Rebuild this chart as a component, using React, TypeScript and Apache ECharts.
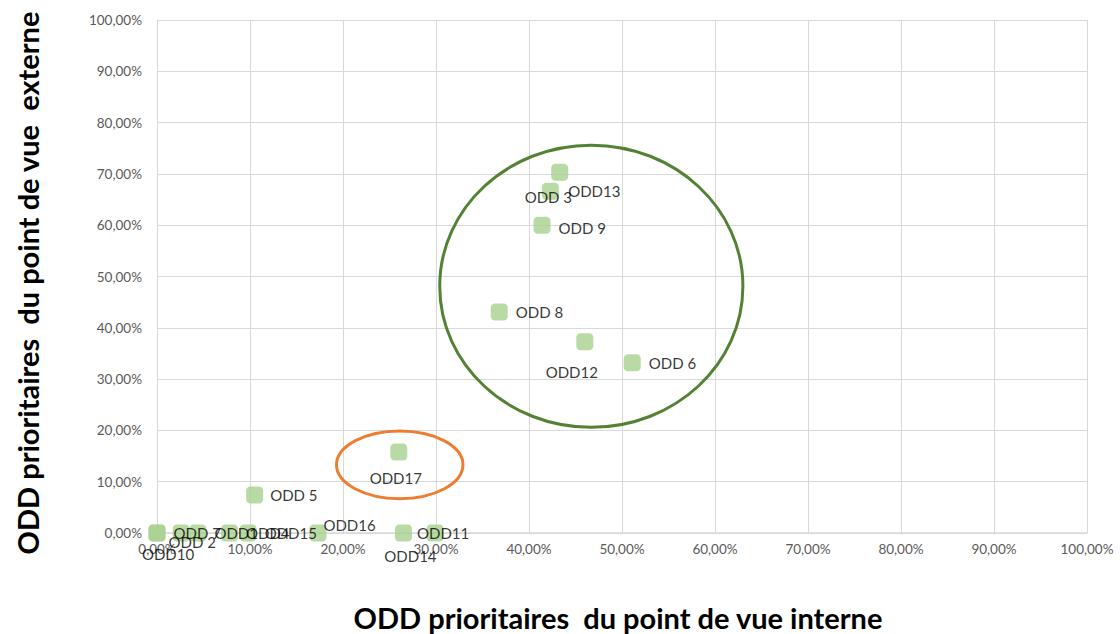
import React, { useEffect, useRef } from "react";
import * as echarts from "echarts";

// ---- Data (percentages) ----
const oddNames = [
  "ODD10", "ODD 7", "ODD 2", "ODD1", "ODD4", "ODD15", "ODD16", "ODD14", "ODD11",
  "ODD 5", "ODD17", "ODD 8", "ODD12", "ODD 6", "ODD 9", "ODD 3", "ODD13",
];
const interne = [0, 0, 2.6, 4.4, 7.8, 9.8, 17.3, 26.5, 29.9, 10.5, 26.0, 36.8, 46.0, 51.1, 41.4, 42.3, 43.3];
const externe = [0, 0, 0, 0, 0, 0, 0, 0, 0, 7.4, 15.8, 43.1, 37.3, 33.2, 60.0, 66.6, 70.3];

const xTitle = "ODD prioritaires  du point de vue interne";
const yTitle = "ODD prioritaires  du point de vue  externe";

// Highlight ellipses (data units: center x, center y, radius x, radius y)
const ellipseCenterX = [46.7, 26.1];
const ellipseCenterY = [48.1, 13.3];
const ellipseRadiusX = [16.3, 6.8];
const ellipseRadiusY = [27.5, 6.6];
const ellipseColors = ["#548235", "#ED7D31"];

// ---- Label placement (style) ----
const labelPlacement: Record<string, any> = {
  "ODD10": { position: "bottom", offset: [11, 0] },
  "ODD 7": { position: "right", distance: 8 },
  "ODD 2": { position: "bottom", offset: [11, -12] },
  "ODD1": { position: "right", distance: 8 },
  "ODD4": { position: "right", distance: 8 },
  "ODD15": { position: "right", distance: 8 },
  "ODD16": { position: "right", distance: -3, offset: [0, -8] },
  "ODD14": { position: "bottom", offset: [7, 2] },
  "ODD11": { position: "inside", offset: [8, 0] },
  "ODD 5": { position: "right", distance: 7 },
  "ODD17": { position: "bottom", offset: [-3, 5] },
  "ODD 8": { position: "right", distance: 8 },
  "ODD12": { position: "bottom", offset: [-13, 9] },
  "ODD 6": { position: "right", distance: 8 },
  "ODD 9": { position: "right", distance: 8, offset: [0, 3] },
  "ODD 3": { position: "inside", offset: [-2, 6] },
  "ODD13": { position: "right", distance: 0, offset: [0, 19] },
};

const pct = (v: number) => v.toFixed(2).replace(".", ",") + "%";
const FONT = "Lato, 'Open Sans', sans-serif";

export default function App() {
  const ref = useRef<HTMLDivElement>(null);

  useEffect(() => {
    if (!ref.current) return;
    const chart = echarts.init(ref.current, undefined, { renderer: "svg" });

    const points = oddNames.map((name, i) => ({
      name,
      value: [interne[i], externe[i]],
      label: { show: true, ...labelPlacement[name] },
    }));

    chart.setOption({
      animation: false,
      backgroundColor: "#ffffff",
      textStyle: { fontFamily: FONT },
      grid: { left: 157, right: 33, top: 20, bottom: 101, containLabel: false },
      xAxis: {
        type: "value",
        min: 0,
        max: 100,
        interval: 10,
        axisLine: { show: true, lineStyle: { color: "#d9d9d9", width: 1.5 } },
        axisTick: { show: false },
        axisLabel: { formatter: pct, color: "#595959", fontSize: 13.5, fontFamily: FONT, margin: 9 },
        splitLine: { show: true, lineStyle: { color: "#d9d9d9", width: 1 } },
      },
      yAxis: {
        type: "value",
        min: 0,
        max: 100,
        interval: 10,
        axisLine: { show: false },
        axisTick: { show: false },
        axisLabel: { formatter: pct, color: "#595959", fontSize: 13.5, fontFamily: FONT, margin: 15 },
        splitLine: { show: true, lineStyle: { color: "#d9d9d9", width: 1 } },
      },
      series: [
        {
          type: "scatter",
          symbol: "roundRect",
          symbolSize: 17,
          itemStyle: { color: "#A9D18E" },
          label: {
            show: true,
            formatter: (p: any) => p.name,
            color: "#000",
            fontSize: 15,
            fontFamily: FONT,
          },
          data: points,
        },
      ],
    });

    const ellipses = ellipseCenterX.map((cx, i) => {
      const c = chart.convertToPixel({ gridIndex: 0 }, [cx, ellipseCenterY[i]]) as number[];
      const e = chart.convertToPixel({ gridIndex: 0 }, [cx + ellipseRadiusX[i], ellipseCenterY[i] + ellipseRadiusY[i]]) as number[];
      return {
        type: "ellipse",
        shape: { cx: c[0], cy: c[1], rx: Math.abs(e[0] - c[0]), ry: Math.abs(e[1] - c[1]) },
        style: { fill: "none", stroke: ellipseColors[i], lineWidth: 3 },
        silent: true,
        z: 1,
      };
    });

    const titles = [
      {
        type: "text",
        x: 618,
        y: 617,
        style: {
          text: xTitle,
          fontFamily: FONT,
          fontWeight: "bold",
          fontSize: 29,
          fill: "#000",
          textAlign: "center",
          textVerticalAlign: "middle",
        },
        silent: true,
      },
      {
        type: "text",
        x: 27,
        y: 283,
        rotation: Math.PI / 2,
        style: {
          text: yTitle,
          fontFamily: FONT,
          fontWeight: "bold",
          fontSize: 29,
          fill: "#000",
          textAlign: "center",
          textVerticalAlign: "middle",
        },
        silent: true,
      },
    ];

    chart.setOption({ graphic: [...ellipses, ...titles] });

    return () => chart.dispose();
  }, []);

  return (
    <div
      ref={ref}
      style={{ position: "fixed", left: 0, top: 0, width: 1120, height: 634, background: "#fff" }}
    />
  );
}
